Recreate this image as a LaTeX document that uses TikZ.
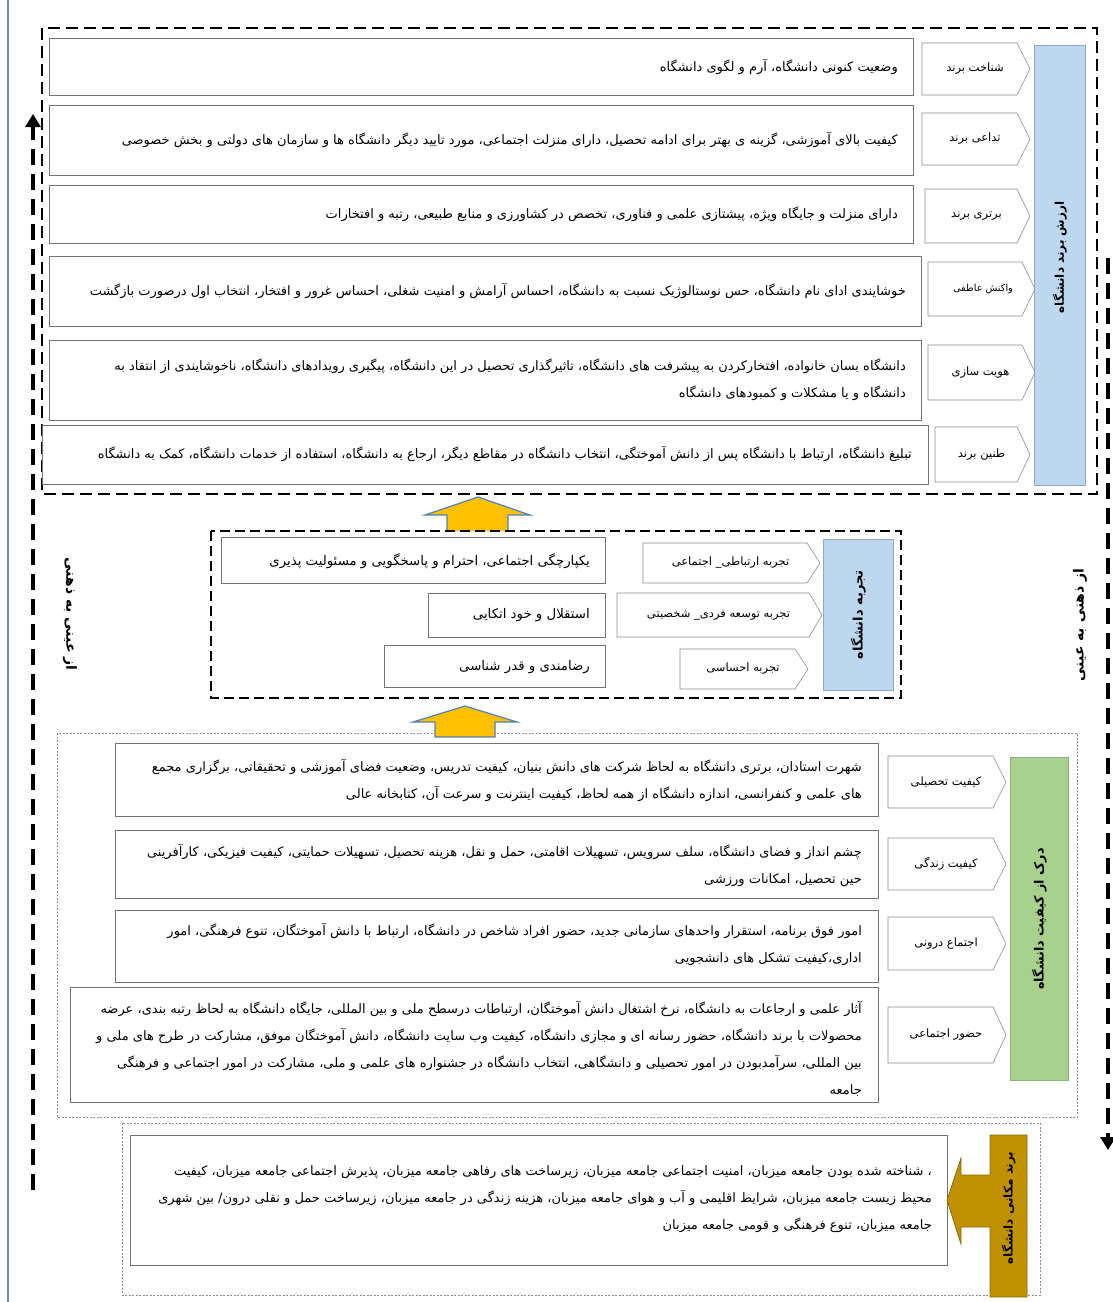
\documentclass[tikz,border=0pt]{standalone}
\usepackage{fontspec}
\usepackage{graphicx}
\newfontfamily\fa[Script=Arabic]{DejaVu Sans}
\TeXXeTstate=1
\usetikzlibrary{arrows.meta}
\newcommand{\rtltext}[1]{\beginR #1\endR}
\definecolor{bfill}{HTML}{BDD7EE}
\definecolor{bdraw}{HTML}{8EA9C1}
\definecolor{gfill}{HTML}{A9D18E}
\definecolor{gdraw}{HTML}{8FAF7A}
\definecolor{gold}{HTML}{BF9000}
\definecolor{golddraw}{HTML}{8C6A00}
\definecolor{yarrow}{HTML}{FFC000}
\definecolor{yarrowdraw}{HTML}{4F81BD}
\definecolor{pageline}{HTML}{6F8FB8}
\tikzset{
  descbox/.style={draw=black!55, line width=0.8pt, fill=white, anchor=north west, inner sep=0pt},
  pentline/.style={draw=black!45, line width=0.6pt, fill=white},
  bodytxt/.style={font=\fa\fontsize{13}{27}\selectfont, anchor=east, inner sep=0pt, align=right},
  lbl/.style={font=\fa\fontsize{11.5}{13}\selectfont, inner sep=0pt},
  vlbl/.style={font=\fa\bfseries\fontsize{12}{14}\selectfont, inner sep=0pt, rotate=90},
  bigdash/.style={line width=2.6pt, dash pattern=on 12pt off 6pt},
  middash/.style={line width=2pt, dash pattern=on 10pt off 5pt},
  dotbox/.style={draw=black!45, line width=0.6pt, dash pattern=on 2pt off 1.5pt},
  sidearrow/.style={line width=4pt, dash pattern=on 16pt off 9pt},
  blockarrow/.style={fill=yarrow, draw=yarrowdraw, line width=1.2pt},
}
\newcommand\pentbox[6]{%
  \draw[pentline] (#2,-#3) -- ({#4-13},-#3) -- (#4,{-(#3+#5)/2}) -- ({#4-13},-#5) -- (#2,-#5) -- cycle;
  \node[lbl] (#1) at ({(#2+#4)/2-1},{-(#3+#5)/2}) {#6};
}
\begin{document}
\begin{tikzpicture}[x=1pt,y=1pt]
\useasboundingbox (0,0) rectangle (1113,-1302);
\fill[white] (0,0) rectangle (1113,-1302);
% page line
\draw[pageline, line width=2pt] (8,0) -- (8,-1302);

% ===== top section =====
\draw[bigdash] (42,-28) rectangle (1097,-494);
\node[draw=bdraw, fill=bfill, line width=0.8pt, anchor=north west, minimum width=51pt, minimum height=440pt, inner sep=0pt] (vb) at (1034,-45) {};
\node[vlbl] (vbt) at ([yshift=8pt]vb.center) {\beginR ارزش برند دانشگاه\endR};

\node[descbox, minimum width=864pt, minimum height=57pt] (b1) at (49,-38) {};
\node[bodytxt] (t1) at (898,-67) {\beginR وضعیت کنونی دانشگاه، آرم و لگوی دانشگاه\endR};
\pentbox{p1}{922}{43}{1030}{95}{\beginR شناخت برند\endR}

\node[descbox, minimum width=864pt, minimum height=70pt] (b2) at (49,-105) {};
\node[bodytxt] (t2) at (898,-140) {\beginR کیفیت بالای آموزشی، گزینه ی بهتر برای ادامه تحصیل، دارای منزلت اجتماعی، مورد تایید دیگر دانشگاه ها و سازمان های دولتی و بخش خصوصی\endR};
\pentbox{p2}{922}{113}{1030}{165}{\beginR تداعی برند\endR}

\node[descbox, minimum width=864pt, minimum height=58pt] (b3) at (49,-185) {};
\node[bodytxt] (t3) at (898,-214) {\beginR دارای منزلت و جایگاه ویژه، پیشتازی علمی و فناوری، تخصص در کشاورزی و منابع طبیعی، رتبه و افتخارات\endR};
\pentbox{p3}{925}{189}{1030}{243}{\beginR برتری برند\endR}

\node[descbox, minimum width=872pt, minimum height=70pt] (b4) at (49,-256) {};
\node[bodytxt] (t4) at (906,-291) {\beginR خوشایندی ادای نام دانشگاه، حس نوستالوژیک نسبت به دانشگاه، احساس آرامش و امنیت شغلی، احساس غرور و افتخار، انتخاب اول درصورت بازگشت\endR};
\draw[pentline] (928,-262) -- (1022,-262) -- (1035,-289) -- (1022,-316) -- (928,-316) -- cycle;
\node[font=\fa\fontsize{9.7}{11}\selectfont, inner sep=0pt] (p4) at (983,-289) {\beginR واکنش عاطفی\endR};

\node[descbox, minimum width=872pt, minimum height=80pt] (b5) at (49,-340) {};
\node[bodytxt] (t5) at (906,-380) {\beginR دانشگاه بسان خانواده، افتخارکردن به پیشرفت های دانشگاه، تاثیرگذاری تحصیل در این دانشگاه، پیگیری رویدادهای دانشگاه، ناخوشایندی از انتقاد به\endR\\ \beginR دانشگاه و یا مشکلات و کمبودهای دانشگاه\endR};
\pentbox{p5}{928}{345}{1035}{400}{\beginR هویت سازی\endR}

\node[descbox, minimum width=886pt, minimum height=59pt] (b6) at (42,-425) {};
\node[bodytxt] (t6) at (912,-454) {\beginR تبلیغ دانشگاه، ارتباط با دانشگاه پس از دانش آموختگی، انتخاب دانشگاه در مقاطع دیگر، ارجاع به دانشگاه، استفاده از خدمات دانشگاه، کمک به دانشگاه\endR};
\pentbox{p6}{935}{427}{1030}{482}{\beginR طنین برند\endR}

% ===== block arrow 1 =====
\draw[blockarrow] (447,-531) -- (447,-515) -- (425,-515) -- (478,-497) -- (530,-515) -- (508,-515) -- (508,-531);

% ===== middle section =====
\draw[middash] (211,-531) rectangle (901,-698);
\node[draw=bdraw, fill=bfill, line width=0.8pt, anchor=north west, minimum width=70pt, minimum height=151pt, inner sep=0pt] (mb) at (823,-539) {};
\node[vlbl, font=\fa\bfseries\fontsize{13}{15}\selectfont] (mbt) at (mb.center) {\beginR تجربه دانشگاه\endR};

\pentbox{q1}{643}{543}{820}{583}{\beginR تجربه ارتباطی\_ اجتماعی\endR}
\node[descbox, minimum width=384pt, minimum height=46pt] (m1) at (221,-537) {};
\node[bodytxt, font=\fa\fontsize{13.3}{15}\selectfont] (mt1) at (590,-561) {\beginR یکپارچگی اجتماعی، احترام و پاسخگویی و مسئولیت پذیری\endR};

\pentbox{q2}{617}{593}{822}{637}{\beginR تجربه توسعه فردی\_ شخصیتی\endR}
\node[descbox, minimum width=177pt, minimum height=44pt] (m2) at (428,-593) {};
\node[bodytxt, font=\fa\fontsize{13.3}{15}\selectfont] (mt2) at (590,-615) {\beginR استقلال و خود اتکایی\endR};

\pentbox{q3}{680}{649}{808}{689}{\beginR تجربه احساسی\endR}
\node[descbox, minimum width=221pt, minimum height=42pt] (m3) at (384,-645) {};
\node[bodytxt, font=\fa\fontsize{13.3}{15}\selectfont] (mt3) at (590,-667) {\beginR رضامندی و قدر شناسی\endR};

% ===== lower section =====
\draw[dotbox] (57,-733) rectangle (1077,-1117);
% block arrow 2
\draw[blockarrow] (435,-737) -- (435,-722) -- (413,-722) -- (465,-706) -- (517,-722) -- (495,-722) -- (495,-737) -- cycle;

\node[draw=gdraw, fill=gfill, line width=0.8pt, anchor=north west, minimum width=58pt, minimum height=323pt, inner sep=0pt] (gb) at (1010,-757) {};
\node[vlbl, font=\fa\bfseries\fontsize{12.8}{15}\selectfont] (gbt) at (gb.center) {\beginR درک از کیفیت دانشگاه\endR};

\node[descbox, minimum width=763pt, minimum height=73pt] (l1) at (115,-743) {};
\node[bodytxt] (lt1) at (862,-780) {\beginR شهرت استادان، برتری دانشگاه به لحاظ شرکت های دانش بنیان، کیفیت تدریس، وضعیت فضای آموزشی و تحقیقاتی، برگزاری مجمع\endR\\ \beginR های علمی و کنفرانسی، اندازه دانشگاه از همه لحاظ، کیفیت اینترنت و سرعت آن، کتابخانه عالی\endR};
\pentbox{r1}{888}{756}{1006}{808}{\beginR کیفیت  تحصیلی\endR}

\node[descbox, minimum width=763pt, minimum height=68pt] (l2) at (115,-830) {};
\node[bodytxt] (lt2) at (862,-865) {\beginR چشم انداز و فضای دانشگاه، سلف سرویس، تسهیلات اقامتی، حمل و نقل، هزینه تحصیل، تسهیلات حمایتی، کیفیت فیزیکی، کارآفرینی\endR\\ \beginR حین تحصیل، امکانات ورزشی\endR};
\pentbox{r2}{888}{838}{1006}{890}{\beginR کیفیت زندگی\endR}

\node[descbox, minimum width=763pt, minimum height=72pt] (l3) at (115,-910) {};
\node[bodytxt] (lt3) at (862,-944) {\beginR امور فوق برنامه، استقرار واحدهای سازمانی جدید، حضور افراد شاخص در دانشگاه، ارتباط با دانش آموختگان، تنوع فرهنگی، امور\endR\\ \beginR اداری،کیفیت تشکل های دانشجویی\endR};
\pentbox{r3}{888}{917}{1006}{970}{\beginR اجتماع درونی\endR}

\node[descbox, minimum width=808pt, minimum height=115pt] (l4) at (70,-987) {};
\node[bodytxt] (lt4) at (862,-1049) {\beginR آثار علمی و ارجاعات به دانشگاه، نرخ اشتغال دانش آموختگان، ارتباطات درسطح ملی و بین المللی، جایگاه دانشگاه به لحاظ رتبه بندی، عرضه\endR\\ \beginR محصولات با برند دانشگاه، حضور رسانه ای و مجازی دانشگاه، کیفیت وب سایت دانشگاه، دانش آموختگان موفق، مشارکت در طرح های ملی و\endR\\ \beginR بین المللی، سرآمدبودن در امور تحصیلی و دانشگاهی، انتخاب دانشگاه در جشنواره های علمی و ملی، مشارکت در امور اجتماعی و فرهنگی\endR\\ \beginR جامعه\endR};
\pentbox{r4}{888}{1007}{1006}{1063}{\beginR حضور اجتماعی\endR}

% ===== bottom section =====
\draw[dotbox] (122,-1123) rectangle (1040,-1295);
\node[descbox, minimum width=817pt, minimum height=130pt] (bb) at (130,-1135) {};
\node[bodytxt] (bt) at (932,-1199) {\beginR ، شناخته شده بودن جامعه میزبان، امنیت اجتماعی جامعه میزبان، زیرساخت های رفاهی جامعه میزبان، پذیرش اجتماعی جامعه میزبان، کیفیت\endR\\ \beginR محیط زیست جامعه میزبان، شرایط اقلیمی و آب و هوای جامعه میزبان، هزینه زندگی در جامعه میزبان، زیرساخت حمل و نقلی درون/ بین شهری\endR\\ \beginR جامعه میزبان، تنوع فرهنگی و قومی جامعه میزبان\endR};
\draw[fill=gold, draw=golddraw, line width=0.8pt] (990,-1135) -- (1027,-1135) -- (1027,-1297) -- (990,-1297) -- (990,-1227) -- (961,-1227) -- (961,-1244) -- (947,-1200) -- (961,-1158) -- (961,-1175) -- (990,-1175) -- cycle;
\coordinate (gc) at (1008.5,-1208);
\node[vlbl] (gct) at (gc) {\beginR برند مکانی دانشگاه\endR};

% ===== side arrows =====
\coordinate (ls) at (33,-1190);
\coordinate (le) at (33,-114);
\draw[sidearrow, -{Triangle[width=15pt,length=13pt]}] (ls) -- (le);
\coordinate (rs) at (1108,-258);
\coordinate (re) at (1108,-1150);
\draw[sidearrow, -{Triangle[width=15pt,length=13pt]}] (rs) -- (re);
\node[font=\fa\bfseries\fontsize{14}{16}\selectfont, rotate=-90, inner sep=0pt] (ll) at (70,-614) {\beginR از عینی به ذهنی\endR};
\node[font=\fa\bfseries\fontsize{14}{16}\selectfont, rotate=90, inner sep=0pt] (rl) at (1080,-625) {\beginR از ذهنی به عینی\endR};
\end{tikzpicture}
\end{document}
